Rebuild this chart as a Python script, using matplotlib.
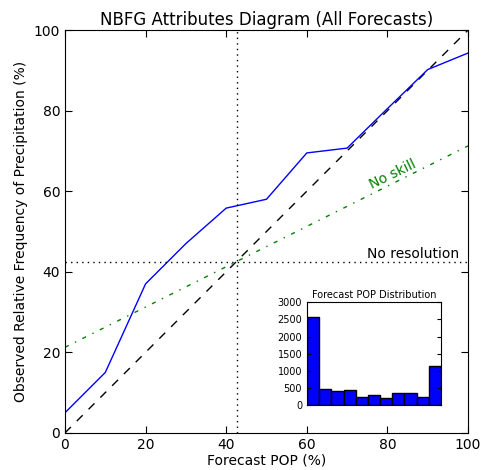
import numpy as np
import matplotlib
matplotlib.use('Agg')
import matplotlib.pyplot as plt

# reliability curve
fcst_pop = [0, 10, 20, 30, 40, 50, 60, 70, 80, 90, 100]
obs_freq = [5.0, 15.0, 37.0, 47.0, 55.8, 58.0, 69.5, 70.7, 80.5, 90.2, 94.3]
climo = 42.5
climo_x = 42.7

# inset histogram counts, one per forecast bin
hist_counts = [2560, 470, 405, 435, 245, 285, 195, 365, 365, 235, 1155]
hist_yticks = [0, 500, 1000, 1500, 2000, 2500, 3000]

plt.rcParams['xtick.direction'] = 'in'
plt.rcParams['ytick.direction'] = 'in'
plt.rcParams['xtick.top'] = True
plt.rcParams['ytick.right'] = True
# old-style dash patterns
plt.rcParams['lines.dashed_pattern'] = [6, 6]
plt.rcParams['lines.dotted_pattern'] = [1, 3]
plt.rcParams['lines.dashdot_pattern'] = [3, 5, 1, 5]
plt.rcParams['lines.scale_dashes'] = False

fig = plt.figure(figsize=(4.85, 4.7), dpi=100)
ax = fig.add_axes([0.134, 0.079, 0.831, 0.857])

ax.plot([0, 100], [0, 100], 'k--', lw=1)
ax.plot(fcst_pop, obs_freq, color='blue', lw=1)
ax.axhline(climo, color='k', ls=':', lw=1)
ax.axvline(climo_x, color='k', ls=':', lw=1)
noskill = [(x + climo) / 2. for x in [0, 100]]
ax.plot([0, 100], noskill, color='green', ls='-.', lw=1)

ax.text(75, 60.5, 'No skill', color='green', rotation=26, fontsize=10)
ax.text(75, 43.3, 'No resolution', color='k', fontsize=10)

ax.set_xlim(0, 100)
ax.set_ylim(0, 100)
ax.set_xticks([0, 20, 40, 60, 80, 100])
ax.set_yticks([0, 20, 40, 60, 80, 100])
ax.tick_params(labelsize=10, length=5)
ax.set_xlabel('Forecast POP (%)', fontsize=10, labelpad=1)
ax.set_ylabel('Observed Relative Frequency of Precipitation (%)', fontsize=10)
ax.set_title('NBFG Attributes Diagram (All Forecasts)', fontsize=12, pad=4)

ins = fig.add_axes([0.633, 0.138, 0.276, 0.219])
ins.bar(range(len(hist_counts)), hist_counts, width=1.0, color='blue',
        edgecolor='k', lw=1)
ins.set_xlim(-0.5, len(hist_counts) - 0.5)
ins.set_ylim(0, 3000)
ins.set_xticks([])
ins.set_yticks(hist_yticks)
ins.tick_params(labelsize=7, length=3)
ins.set_title('Forecast POP Distribution', fontsize=7, pad=3)

fig.savefig('out.png', dpi=100)
